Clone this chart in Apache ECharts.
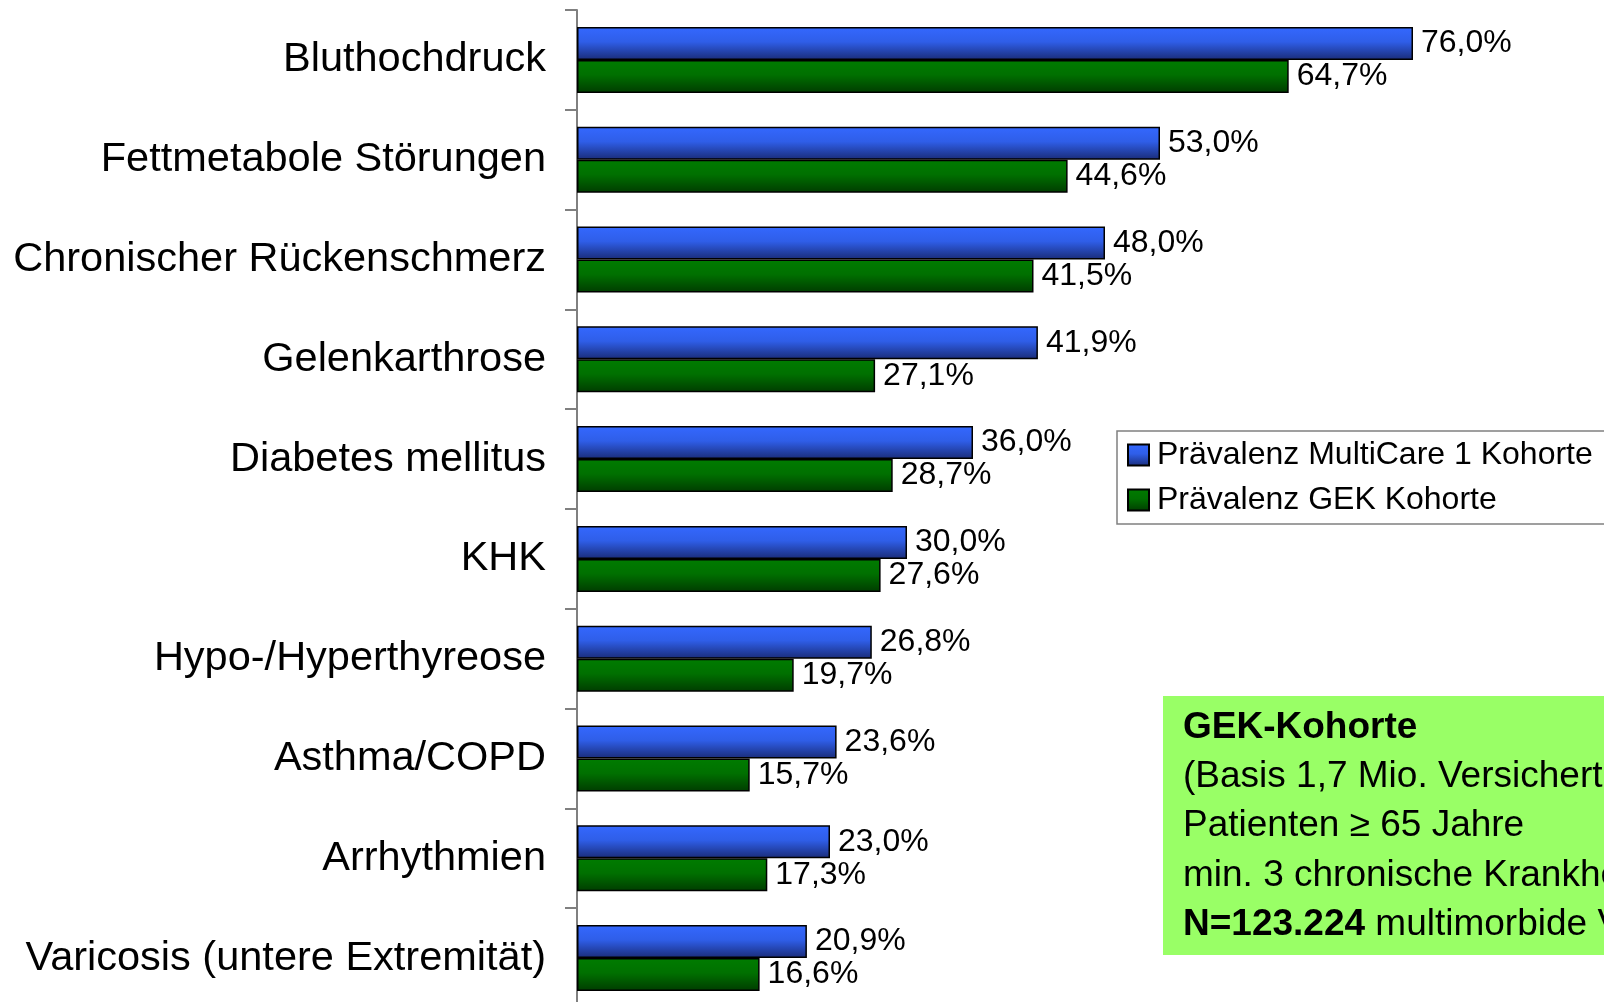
<!DOCTYPE html>
<html>
<head>
<meta charset="utf-8">
<script src="https://cdn.jsdelivr.net/npm/echarts@6/dist/echarts.min.js"></script>
<style>
html,body{margin:0;padding:0;background:#fff;}
#chart{width:1604px;height:1002px;}
</style>
</head>
<body>
<div id="chart"></div>
<script>
const categories = ['Bluthochdruck','Fettmetabole Störungen','Chronischer Rückenschmerz','Gelenkarthrose','Diabetes mellitus','KHK','Hypo-/Hyperthyreose','Asthma/COPD','Arrhythmien','Varicosis (untere Extremität)'];
const multiCare = [76.0, 53.0, 48.0, 41.9, 36.0, 30.0, 26.8, 23.6, 23.0, 20.9];
const gek = [64.7, 44.6, 41.5, 27.1, 28.7, 27.6, 19.7, 15.7, 17.3, 16.6];
const seriesNames = ['Prävalenz MultiCare 1 Kohorte', 'Prävalenz GEK Kohorte'];
const boxLines = ['GEK-Kohorte', '(Basis 1,7 Mio. Versicherte)', 'Patienten ≥ 65 Jahre', 'min. 3 chronische Krankheiten', 'N=123.224', ' multimorbide Versicherte'];

const FONT = '"Liberation Sans", Arial, sans-serif';
const fmt = p => p.value.toFixed(1).replace('.', ',') + '%';

const blueGrad = new echarts.graphic.LinearGradient(0,0,0,1,[
  {offset:0,color:'#3468ff'},{offset:0.45,color:'#2f5ee8'},{offset:1,color:'#1a2c78'}]);
const greenGrad = new echarts.graphic.LinearGradient(0,0,0,1,[
  {offset:0,color:'#007c00'},{offset:0.45,color:'#007000'},{offset:1,color:'#003c00'}]);

const chart = echarts.init(document.getElementById('chart'));
chart.setOption({
  backgroundColor:'#ffffff',
  animation:false,
  textStyle:{fontFamily:FONT},
  grid:{left:577, top:10, width:990, height:998, containLabel:false, outerBoundsMode:'none'},
  xAxis:{type:'value', min:0, max:90, show:false},
  yAxis:{
    type:'category', data:categories, inverse:true,
    axisLine:{show:true, lineStyle:{color:'#808080', width:2}},
    axisTick:{show:true, length:12, lineStyle:{color:'#808080', width:2}},
    axisLabel:{fontSize:41.5, color:'#000', margin:31, fontFamily:FONT}
  },
  legend:{
    orient:'vertical', left:1117, top:431,
    data:seriesNames, icon:'rect',
    backgroundColor:'#fff', borderColor:'#808080', borderWidth:1.5,
    padding:[8,40,8,10], itemGap:13, itemWidth:21, itemHeight:21,
    textStyle:{fontSize:32, color:'#000', fontFamily:FONT, padding:[0,0,0,3]}
  },
  graphic:[
    {type:'rect', shape:{x:1163, y:696, width:500, height:259}, style:{fill:'#99ff66'}, z:10},
    {type:'text', x:1183, y:703, z:11,
     style:{
       text:'{b|'+boxLines[0]+'}\n'+boxLines[1]+'\n'+boxLines[2]+'\n'+boxLines[3]+'\n{b|'+boxLines[4]+'}'+boxLines[5],
       font:'37px '+FONT, fill:'#000', lineHeight:49.3, verticalAlign:'top',
       rich:{b:{fontWeight:'bold', fontSize:37, fontFamily:FONT, lineHeight:49.3}}
     }}
  ],
  series:[
    {name:seriesNames[0], type:'bar', data:multiCare, barWidth:33, barGap:'0%',
     itemStyle:{color:blueGrad, borderColor:'#000', borderWidth:1.5},
     label:{show:true, position:'right', distance:8, formatter:fmt, fontSize:32, color:'#000', fontFamily:FONT}},
    {name:seriesNames[1], type:'bar', data:gek, barWidth:33, barGap:'0%',
     itemStyle:{color:greenGrad, borderColor:'#000', borderWidth:1.5},
     label:{show:true, position:'right', distance:8, formatter:fmt, fontSize:32, color:'#000', fontFamily:FONT}}
  ]
});
</script>
</body>
</html>
